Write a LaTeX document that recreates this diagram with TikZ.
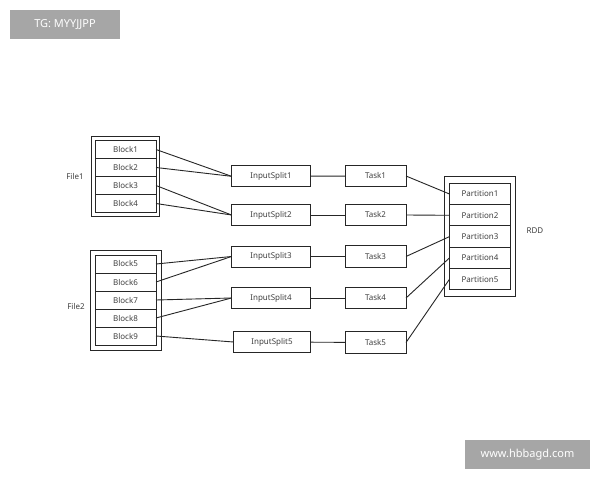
\documentclass[tikz,border=0pt]{standalone}
\usepackage{fontspec}
\setmainfont{Noto Sans}
\usetikzlibrary{positioning, fit}

\tikzset{
    block/.style={draw=black!85, line width=0.9pt, outer sep=0pt, inner sep=0pt,
        minimum width=61pt, minimum height=18pt, font=\fontsize{8}{9}\selectfont, text=black!75},
    part/.style={block, minimum height=21.3pt},
    split/.style={block, minimum width=79pt, minimum height=21pt},
    task/.style={block, minimum height=21.5pt},
    holder/.style={draw=black!85, line width=0.9pt, inner sep=4pt},
    tag/.style={font=\fontsize{8}{9}\selectfont, text=black!75},
    mark box/.style={fill=black!35, text=white, inner sep=0pt, font=\fontsize{11}{12}\selectfont\bfseries}
}

\begin{document}
\begin{tikzpicture}[x=1pt, y=1pt]
    \useasboundingbox[fill=white] (0,0) rectangle (600,480);

    % file 1
    \node[block] (b_1) at (125.5,330.5) {Block1};
    \node[block] (b_2) [below=0pt of b_1] {Block2};
    \node[block] (b_3) [below=0pt of b_2] {Block3};
    \node[block] (b_4) [below=0pt of b_3] {Block4};
    \node[holder, inner sep=3.6pt, fit=(b_1)(b_4)] (f_1) {};
    \node[tag] (l_1) at (75,303) {File1};

    % file 2
    \node[block] (b_5) at (125.5,216) {Block5};
    \node[block] (b_6) [below=0pt of b_5] {Block6};
    \node[block] (b_7) [below=0pt of b_6] {Block7};
    \node[block] (b_8) [below=0pt of b_7] {Block8};
    \node[block] (b_9) [below=0pt of b_8] {Block9};
    \node[holder, inner sep=5pt, fit=(b_5)(b_9)] (f_2) {};
    \node[tag] (l_2) at (76,174) {File2};

    % splits
    \node[split] (s_1) at (271,303.7) {InputSplit1};
    \node[split] (s_2) at (271,265) {InputSplit2};
    \node[split] (s_3) at (271,223.5) {InputSplit3};
    \node[split] (s_4) at (271,182) {InputSplit4};
    \node[split, minimum width=77pt] (s_5) at (272,138) {InputSplit5};

    % tasks
    \node[task] (t_1) at (375.5,304) {Task1};
    \node[task] (t_2) at (375.5,265) {Task2};
    \node[task] (t_3) at (375.5,223.5) {Task3};
    \node[task] (t_4) at (375.5,182) {Task4};
    \node[task] (t_5) at (375.5,137.5) {Task5};

    % rdd
    \node[part] (p_1) at (480,286) {Partition1};
    \node[part] (p_2) [below=0pt of p_1] {Partition2};
    \node[part] (p_3) [below=0pt of p_2] {Partition3};
    \node[part] (p_4) [below=0pt of p_3] {Partition4};
    \node[part] (p_5) [below=0pt of p_4] {Partition5};
    \node[holder, inner xsep=5.2pt, inner ysep=7pt, fit=(p_1)(p_5)] (r_1) {};
    \node[tag] (l_3) at (535,249) {RDD};

    \path[draw=black!85, line width=0.9pt]
        (b_1.east) edge (s_1.west)
        (b_2.east) edge (s_1.west)
        (b_3.east) edge (s_2.west)
        (b_4.east) edge (s_2.west)
        (b_5.east) edge (s_3.west)
        (b_6.east) edge (s_3.west)
        (b_7.east) edge (s_4.west)
        (b_8.east) edge (s_4.west)
        (b_9.east) edge (s_5.west)
        (s_1) edge (t_1)
        (s_2) edge (t_2)
        (s_3) edge (t_3)
        (s_4) edge (t_4)
        (s_5) edge (t_5)
        (t_1.east) edge (p_1.west)
        (t_2.east) edge (p_2.west)
        (t_3.east) edge (p_3.west)
        (t_4.east) edge (p_4.west)
        (t_5.east) edge (p_5.west);

    % marks
    \node[mark box, minimum width=110pt, minimum height=29.3pt] (m_1) at (65,455.3) {TG: MYYJJPP};
    \node[mark box, minimum width=125pt, minimum height=29.3pt] (m_2) at (527.5,25.3) {www.hbbagd.com};
\end{tikzpicture}
\end{document}
